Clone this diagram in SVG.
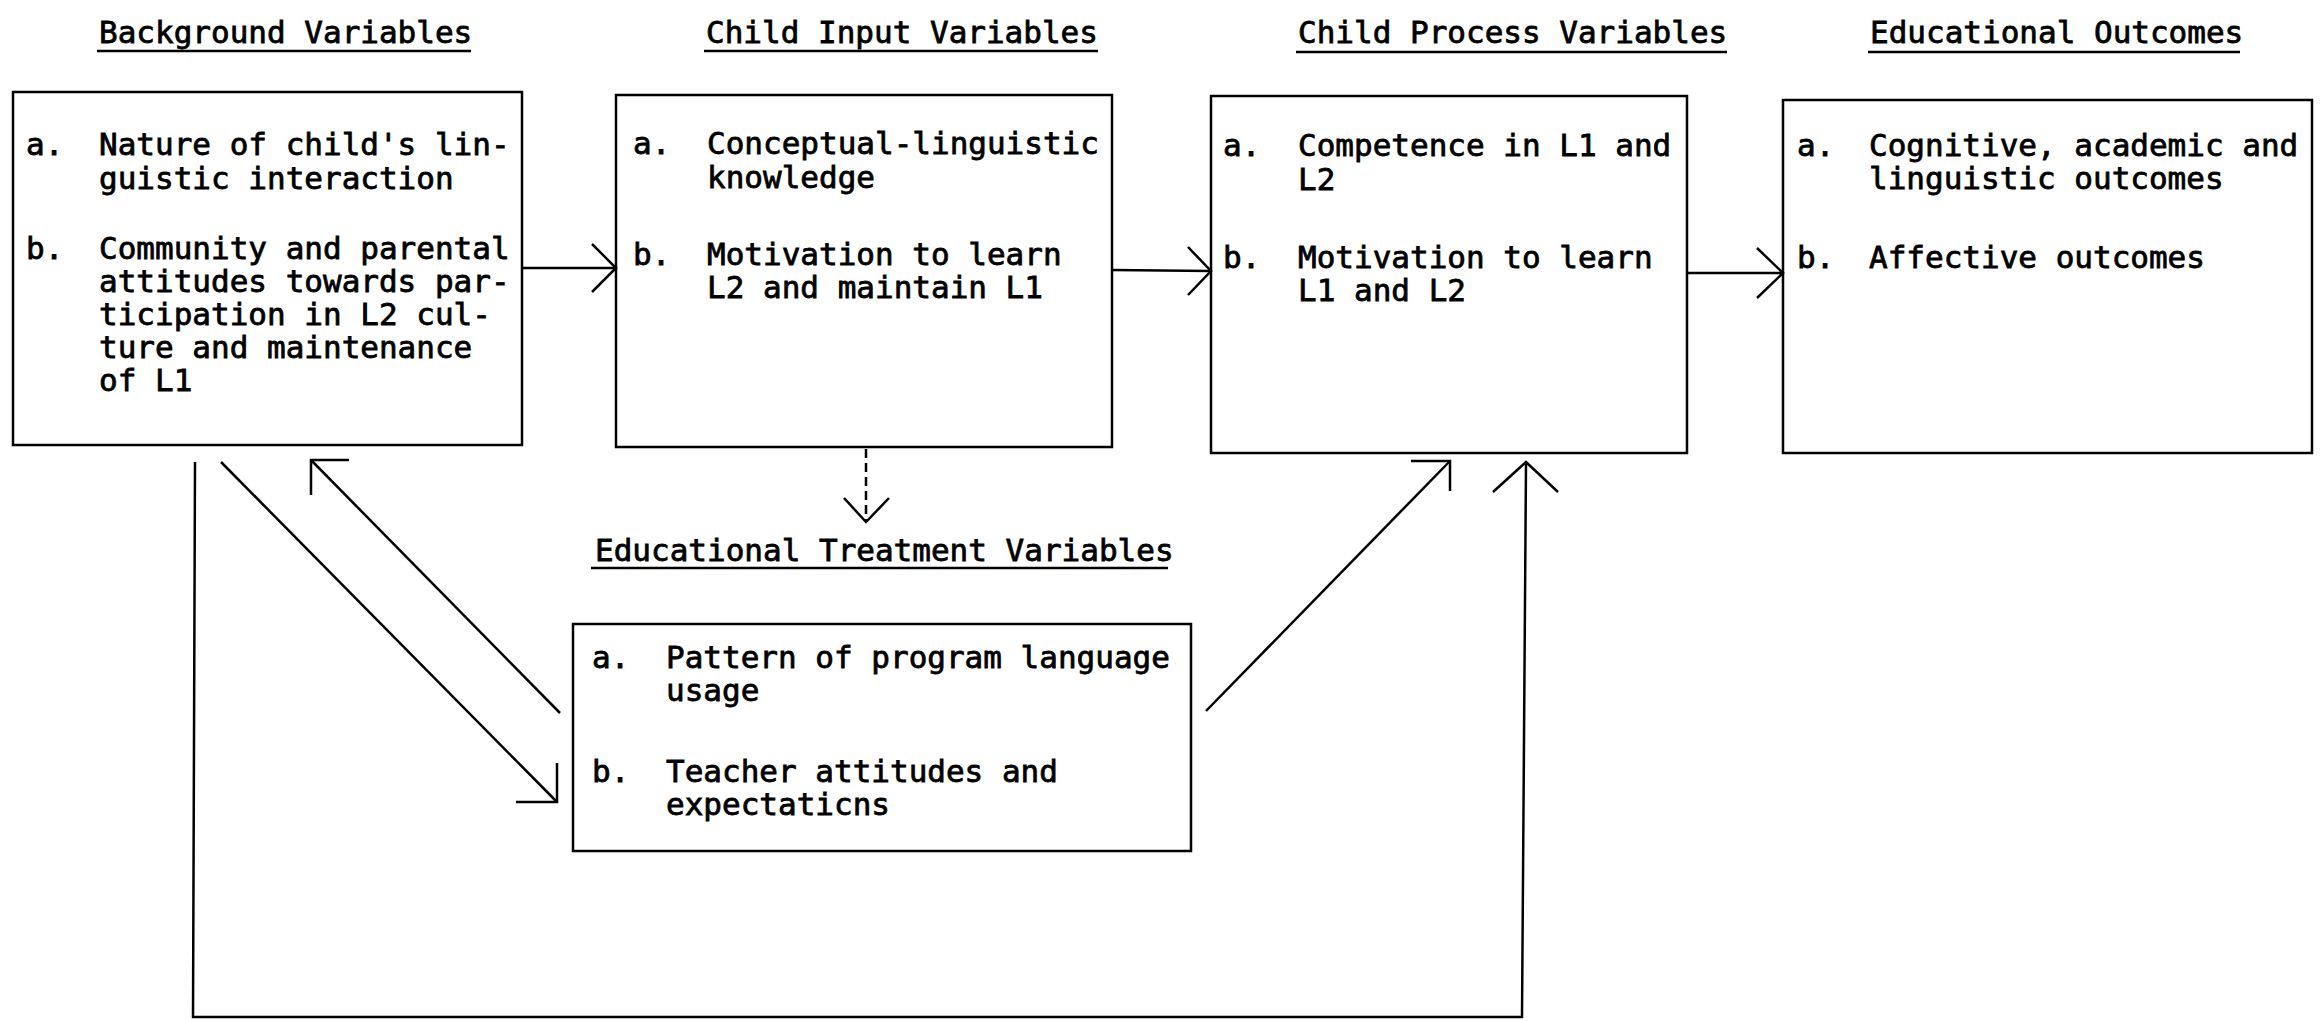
<svg xmlns="http://www.w3.org/2000/svg" width="2320" height="1021" viewBox="0 0 2320 1021">
<style>
  text { font-family: "DejaVu Sans Mono", "Liberation Mono", monospace; font-size: 31px; fill: #000; stroke: #000; stroke-width: 0.8; }
  .box { fill: none; stroke: #000; stroke-width: 2.5; }
  .ul { stroke: #000; stroke-width: 2.5; }
  .con { fill: none; stroke: #000; stroke-width: 2.5; stroke-linejoin: miter; }
  .dash { stroke-dasharray: 9 5; }
</style>
<rect x="0" y="0" width="2320" height="1021" fill="#fff"/>

<g id="background">
  <text x="99" y="43">Background Variables</text>
  <line class="ul" x1="97" y1="51" x2="471" y2="51"/>
  <rect class="box" x="13" y="92" width="509" height="353"/>
  <text x="26" y="155">a.</text>
  <text x="99" y="155">Nature of child's lin-</text>
  <text x="99" y="189">guistic interaction</text>
  <text x="26" y="259">b.</text>
  <text x="99" y="259">Community and parental</text>
  <text x="99" y="292">attitudes towards par-</text>
  <text x="99" y="325">ticipation in L2 cul-</text>
  <text x="99" y="358">ture and maintenance</text>
  <text x="99" y="391">of L1</text>
</g>

<g id="child-input">
  <text x="706" y="43">Child Input Variables</text>
  <line class="ul" x1="704" y1="51" x2="1098" y2="51"/>
  <rect class="box" x="616" y="95" width="496" height="352"/>
  <text x="633" y="154">a.</text>
  <text x="707" y="154">Conceptual-linguistic</text>
  <text x="707" y="188">knowledge</text>
  <text x="633" y="265">b.</text>
  <text x="707" y="265">Motivation to learn</text>
  <text x="707" y="298">L2 and maintain L1</text>
</g>

<g id="child-process">
  <text x="1298" y="43">Child Process Variables</text>
  <line class="ul" x1="1296" y1="52" x2="1727" y2="52"/>
  <rect class="box" x="1211" y="96" width="476" height="357"/>
  <text x="1223" y="156">a.</text>
  <text x="1298" y="156">Competence in L1 and</text>
  <text x="1298" y="190">L2</text>
  <text x="1223" y="268">b.</text>
  <text x="1298" y="268">Motivation to learn</text>
  <text x="1298" y="301">L1 and L2</text>
</g>

<g id="educational-outcomes">
  <text x="1870" y="43">Educational Outcomes</text>
  <line class="ul" x1="1868" y1="52" x2="2240" y2="52"/>
  <rect class="box" x="1783" y="100" width="529" height="353"/>
  <text x="1797" y="156">a.</text>
  <text x="1869" y="156">Cognitive, academic and</text>
  <text x="1869" y="189">linguistic outcomes</text>
  <text x="1797" y="268">b.</text>
  <text x="1869" y="268">Affective outcomes</text>
</g>

<g id="educational-treatment">
  <text x="595" y="561">Educational Treatment Variables</text>
  <line class="ul" x1="591" y1="568" x2="1168" y2="568"/>
  <rect class="box" x="573" y="624" width="618" height="227"/>
  <text x="592" y="668">a.</text>
  <text x="666" y="668">Pattern of program language</text>
  <text x="666" y="701">usage</text>
  <text x="592" y="782">b.</text>
  <text x="666" y="782">Teacher attitudes and</text>
  <text x="666" y="815">expectaticns</text>
</g>

<g id="connectors">
  <line class="con" x1="522" y1="268" x2="616" y2="268"/>
  <polyline class="con" points="592,244 616,268 592,292"/>

  <line class="con" x1="1112" y1="270" x2="1211" y2="271"/>
  <polyline class="con" points="1188,247 1211,271 1188,295"/>

  <line class="con" x1="1687" y1="273" x2="1783" y2="273"/>
  <polyline class="con" points="1757,248 1783,273 1757,298"/>

  <line class="con dash" x1="866" y1="449" x2="866" y2="522"/>
  <polyline class="con" points="844,498 866,522 889,498"/>

  <line class="con" x1="221" y1="462" x2="557" y2="802"/>
  <polyline class="con" points="557,763 557,802 516,802"/>

  <line class="con" x1="560" y1="713" x2="311" y2="460"/>
  <polyline class="con" points="311,495 311,460 349,460"/>

  <line class="con" x1="1206" y1="711" x2="1450" y2="461"/>
  <polyline class="con" points="1411,461 1450,461 1450,491"/>

  <polyline class="con" points="195,462 193,1017 1522,1017 1526,463"/>
  <polyline class="con" points="1493,492 1526,462 1558,492"/>
</g>
</svg>
